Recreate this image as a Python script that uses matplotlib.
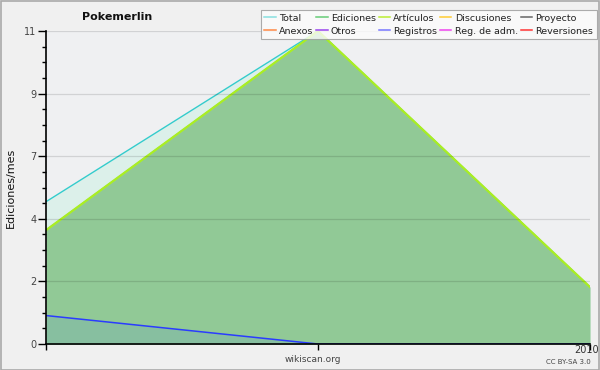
import matplotlib
matplotlib.use("Agg")
import matplotlib.pyplot as plt
from matplotlib.lines import Line2D
from matplotlib.patches import Rectangle
from matplotlib.transforms import ScaledTranslation
import numpy as np

# Data
months = ["2009-11", "2009-12", "2010-01"]
x_labels = ["", "", "2010"]
total = [5, 11, 2]
ediciones = [4, 11, 2]
articulos = [4, 11, 2]
registros = [1, 0, 0]

legend_names = ["Total", "Ediciones", "Artículos", "Discusiones", "Proyecto",
                "Anexos", "Otros", "Registros", "Reg. de adm.", "Reversiones"]
legend_colors = ["#88e0e0", "#66cc77", "#bbee33", "#ffcc33", "#666666",
                 "#ff8844", "#9944ee", "#7777ff", "#ee44ee", "#ff3333"]

y_max = 11
n_major = 5

fig = plt.figure(figsize=(6, 3.7), dpi=100, facecolor="#f0f0f0")
ax = fig.add_axes([46/600, 26/370, 544/600, 313/370])
ax.set_facecolor("#eff0f2")

x = np.arange(len(months))

ax.fill_between(x, 0, total, color="#dcf0ea", zorder=1, lw=0)
ax.plot(x, total, color="#33cccc", lw=1, zorder=3)
ax.fill_between(x, 0, ediciones, color="#91c996", zorder=2, lw=0)
ax.plot(x, ediciones, color="#66cc77", lw=1, zorder=3)
ax.plot(x, articulos, color="#aaee22", lw=1.6, zorder=4)
ax.fill_between(x, 0, registros, color="#87bfa0", zorder=2.5, lw=0)
ax.plot(x, registros, color="#2a3cff", lw=1.1, zorder=4)

ax.set_xlim(0, len(months) - 1)
ax.set_ylim(0, y_max)

majors = np.linspace(0, y_max, n_major + 1)
ax.set_yticks(majors)
ax.set_yticklabels([f"{round(v)}" for v in majors])
ax.set_yticks(np.linspace(0, y_max, n_major * 4 + 1), minor=True)
ax.set_xticks(x)
ax.set_xticklabels(x_labels)

for v in majors[1:]:
    ax.axhline(v, color="black", alpha=0.12, lw=0.9, zorder=5)

for s in ["top", "right"]:
    ax.spines[s].set_visible(False)
for s in ["left", "bottom"]:
    ax.spines[s].set_linewidth(1.2)
    ax.spines[s].set_zorder(6)

ax.tick_params(axis="y", which="major", length=6, width=1, labelsize=7,
               labelcolor="#444444", pad=1)
ax.tick_params(axis="y", which="minor", length=3, width=1)
ax.tick_params(axis="x", which="major", length=4, width=1, labelsize=7,
               labelcolor="#333333", pad=-3)
for lbl in ax.get_xticklabels():
    lbl.set_horizontalalignment("right")
    lbl.set_transform(lbl.get_transform() + ScaledTranslation(9/100, 0, fig.dpi_scale_trans))

ax.set_ylabel("Ediciones/mes", fontsize=8, color="#111111")
ax.yaxis.set_label_coords(-30/544, 0.5)

fig.text(117/600, 1 - 17/370, "Pokemerlin", ha="center", va="center",
         fontsize=8, fontweight="bold", color="#111111")
fig.text(313/600, 1 - 360/370, "wikiscan.org", ha="center", va="center",
         fontsize=6.5, color="#444444")
fig.text(568/600, 1 - 362/370, "CC BY-SA 3.0", ha="center", va="center",
         fontsize=5, color="#444444")

handles = [Line2D([], [], color=c, lw=1.1) for c in legend_colors]
order = [0, 5, 1, 6, 2, 7, 3, 8, 4, 9]
leg = fig.legend([handles[i] for i in order], [legend_names[i] for i in order],
                 ncol=5, loc="upper right", bbox_to_anchor=(597/600, 1 - 10/370),
                 fontsize=6.8, frameon=True, fancybox=False, handlelength=1.2,
                 handletextpad=0.35, columnspacing=0.3, labelspacing=0.4,
                 borderpad=0.4, borderaxespad=0)
leg.get_frame().set_facecolor("#fcfcfc")
leg.get_frame().set_edgecolor("#999999")
leg.get_frame().set_linewidth(0.8)
for t in leg.get_texts():
    t.set_color("#222222")

fig.patches.append(Rectangle((0.001, 0.001), 0.997, 0.997, transform=fig.transFigure,
                             fill=False, edgecolor="#aaaaaa", lw=1.2))

fig.savefig("out.png", dpi=100, facecolor=fig.get_facecolor())
